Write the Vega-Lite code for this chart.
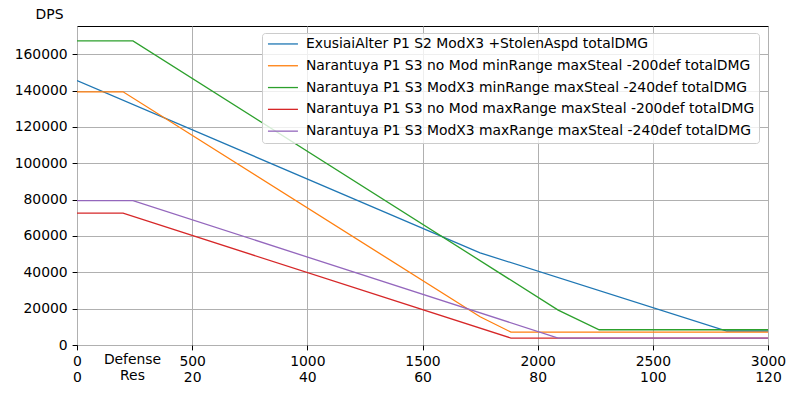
{
  "$schema": "https://vega.github.io/schema/vega-lite/v6.json",
  "width": 691,
  "height": 319,
  "autosize": "none",
  "padding": {"left": 77, "top": 26, "right": 32, "bottom": 55},
  "background": "white",
  "config": {
    "font": "DejaVu Sans",
    "view": {"stroke": "black", "strokeWidth": 1},
    "axis": {
      "labelFont": "DejaVu Sans",
      "labelFontSize": 13.9,
      "labelColor": "black",
      "titleFont": "DejaVu Sans",
      "titleFontSize": 13.9,
      "titleFontWeight": "normal",
      "titleColor": "black",
      "gridColor": "#b0b0b0",
      "gridWidth": 1,
      "tickColor": "black",
      "tickSize": 4.9,
      "labelPadding": 4.9,
      "domain": false
    }
  },
  "data": {
    "values": [
      {"series": "ExusiaiAlter P1 S2 ModX3 +StolenAspd totalDMG", "def": 0, "dps": 145500},
      {"series": "ExusiaiAlter P1 S2 ModX3 +StolenAspd totalDMG", "def": 1750, "dps": 50700},
      {"series": "ExusiaiAlter P1 S2 ModX3 +StolenAspd totalDMG", "def": 2821, "dps": 7700},
      {"series": "ExusiaiAlter P1 S2 ModX3 +StolenAspd totalDMG", "def": 3000, "dps": 7700},
      {"series": "Narantuya P1 S3 no Mod minRange maxSteal -200def totalDMG", "def": 0, "dps": 139300},
      {"series": "Narantuya P1 S3 no Mod minRange maxSteal -200def totalDMG", "def": 200, "dps": 139300},
      {"series": "Narantuya P1 S3 no Mod minRange maxSteal -200def totalDMG", "def": 1750, "dps": 15560},
      {"series": "Narantuya P1 S3 no Mod minRange maxSteal -200def totalDMG", "def": 1884, "dps": 7100},
      {"series": "Narantuya P1 S3 no Mod minRange maxSteal -200def totalDMG", "def": 3000, "dps": 7100},
      {"series": "Narantuya P1 S3 ModX3 minRange maxSteal -240def totalDMG", "def": 0, "dps": 167300},
      {"series": "Narantuya P1 S3 ModX3 minRange maxSteal -240def totalDMG", "def": 243, "dps": 167300},
      {"series": "Narantuya P1 S3 ModX3 minRange maxSteal -240def totalDMG", "def": 2089, "dps": 19200},
      {"series": "Narantuya P1 S3 ModX3 minRange maxSteal -240def totalDMG", "def": 2267, "dps": 8400},
      {"series": "Narantuya P1 S3 ModX3 minRange maxSteal -240def totalDMG", "def": 3000, "dps": 8400},
      {"series": "Narantuya P1 S3 no Mod maxRange maxSteal -200def totalDMG", "def": 0, "dps": 72500},
      {"series": "Narantuya P1 S3 no Mod maxRange maxSteal -200def totalDMG", "def": 200, "dps": 72500},
      {"series": "Narantuya P1 S3 no Mod maxRange maxSteal -200def totalDMG", "def": 1884, "dps": 3800},
      {"series": "Narantuya P1 S3 no Mod maxRange maxSteal -200def totalDMG", "def": 3000, "dps": 3800},
      {"series": "Narantuya P1 S3 ModX3 maxRange maxSteal -240def totalDMG", "def": 0, "dps": 79400},
      {"series": "Narantuya P1 S3 ModX3 maxRange maxSteal -240def totalDMG", "def": 243, "dps": 79400},
      {"series": "Narantuya P1 S3 ModX3 maxRange maxSteal -240def totalDMG", "def": 2089, "dps": 3800},
      {"series": "Narantuya P1 S3 ModX3 maxRange maxSteal -240def totalDMG", "def": 3000, "dps": 3800}
    ]
  },
  "mark": {"type": "line", "strokeWidth": 1.3, "clip": true},
  "encoding": {
    "x": {
      "field": "def",
      "type": "quantitative",
      "scale": {"domain": [0, 3000], "nice": false},
      "axis": {
        "values": [0, 500, 1000, 1500, 2000, 2500, 3000],
        "format": "d",
        "labelExpr": "[datum.label, format(datum.value / 25, 'd')]",
        "labelLineHeight": 16,
        "labelFlush": false,
        "labelOverlap": false,
        "title": ["Defense", "Res"],
        "titleX": 55,
        "titleY": 7,
        "titleAlign": "center",
        "titleBaseline": "top",
        "titleLineHeight": 16
      }
    },
    "y": {
      "field": "dps",
      "type": "quantitative",
      "scale": {"domain": [0, 175500], "nice": false},
      "axis": {
        "values": [0, 20000, 40000, 60000, 80000, 100000, 120000, 140000, 160000],
        "format": "d",
        "labelFlush": false,
        "title": "DPS",
        "titleAngle": 0,
        "titleX": -28,
        "titleY": -12,
        "titleAlign": "center",
        "titleBaseline": "middle"
      }
    },
    "color": {
      "field": "series",
      "type": "nominal",
      "sort": null,
      "scale": {
        "domain": [
          "ExusiaiAlter P1 S2 ModX3 +StolenAspd totalDMG",
          "Narantuya P1 S3 no Mod minRange maxSteal -200def totalDMG",
          "Narantuya P1 S3 ModX3 minRange maxSteal -240def totalDMG",
          "Narantuya P1 S3 no Mod maxRange maxSteal -200def totalDMG",
          "Narantuya P1 S3 ModX3 maxRange maxSteal -240def totalDMG"
        ],
        "range": ["#1f77b4", "#ff7f0e", "#2ca02c", "#d62728", "#9467bd"]
      },
      "legend": {
        "title": null,
        "orient": "none",
        "legendX": 185,
        "legendY": 7,
        "padding": 4,
        "fillColor": "rgba(255,255,255,0.8)",
        "strokeColor": "#cccccc",
        "cornerRadius": 3,
        "labelFont": "DejaVu Sans",
        "labelFontSize": 13.9,
        "labelColor": "black",
        "labelLimit": 600,
        "labelOffset": 26,
        "symbolType": "M-1,0H5",
        "symbolSize": 100,
        "symbolStrokeWidth": 1.3,
        "rowPadding": 6.8
      }
    }
  }
}
